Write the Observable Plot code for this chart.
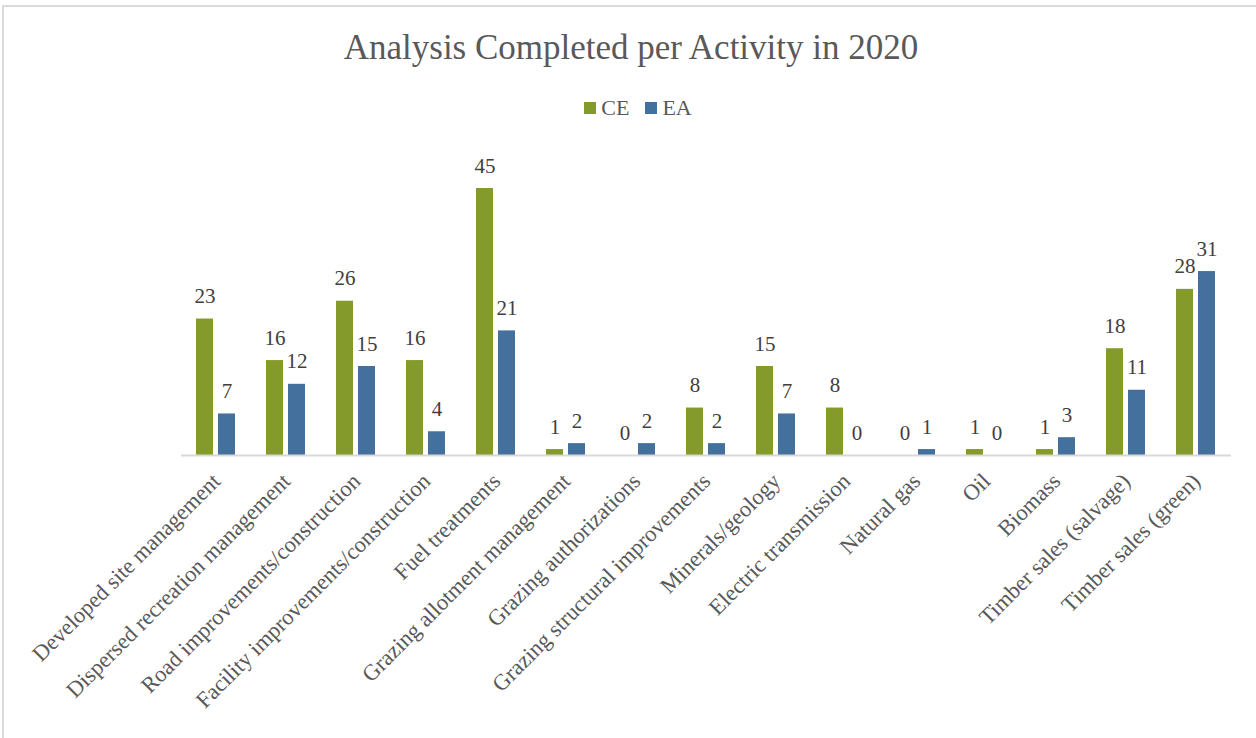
<!DOCTYPE html>
<html>
<head>
<meta charset="utf-8">
<script src="https://cdn.jsdelivr.net/npm/d3@7"></script>
<script src="https://cdn.jsdelivr.net/npm/@observablehq/plot@0.6"></script>
<style>
  html, body { margin: 0; padding: 0; background: #fff; }
  #wrap { position: relative; width: 1256px; height: 738px; overflow: hidden; font-family: "Liberation Serif", serif; }
  #border { position: absolute; left: 2px; top: 5px; width: 1300px; height: 800px; border-left: 2px solid #d9d9d9; border-top: 2px solid #d9d9d9; box-sizing: border-box; }
  #title { position: absolute; left: 0; width: 1262px; top: 26px; text-align: center; font-size: 35px; line-height: 44px; color: #595959; }
  #legend { position: absolute; left: 0; width: 1276px; top: 94px; text-align: center; font-size: 22px; line-height: 28px; color: #595959; }
  .sw { display: inline-block; width: 12px; height: 12px; margin-right: 5px; vertical-align: 1px; }
  .item { margin: 0 8px; }
  #chart { position: absolute; left: 0; top: 0; }
</style>
</head>
<body>
<div id="wrap">
  <div id="border"></div>
  <div id="chart"></div>
  <div id="title"></div>
  <div id="legend"></div>
</div>
<script>
const titleText = "Analysis Completed per Activity in 2020";
const categories = [
  "Developed site management",
  "Dispersed recreation management",
  "Road improvements/construction",
  "Facility improvements/construction",
  "Fuel treatments",
  "Grazing allotment management",
  "Grazing authorizations",
  "Grazing structural improvements",
  "Minerals/geology",
  "Electric transmission",
  "Natural gas",
  "Oil",
  "Biomass",
  "Timber sales (salvage)",
  "Timber sales (green)"
];
const series = ["CE", "EA"];
const ceValues = [23, 16, 26, 16, 45, 1, 0, 8, 15, 8, 0, 1, 1, 18, 28];
const eaValues = [7, 12, 15, 4, 21, 2, 2, 2, 7, 0, 1, 0, 3, 11, 31];
const colors = ["#849a2b", "#43709c"];

const data = categories.flatMap((c, i) => [
  {category: c, series: "CE", value: ceValues[i]},
  {category: c, series: "EA", value: eaValues[i]}
]);

document.getElementById("title").textContent = titleText;
const legend = document.getElementById("legend");
series.forEach((s, i) => {
  const span = document.createElement("span");
  span.className = "item";
  const sw = document.createElement("span");
  sw.className = "sw";
  sw.style.background = colors[i];
  span.appendChild(sw);
  span.appendChild(document.createTextNode(s));
  legend.appendChild(span);
});

const chart = Plot.plot({
  width: 1256,
  height: 738,
  marginLeft: 181,
  marginRight: 25,
  marginTop: 188,
  marginBottom: 283,
  style: {fontFamily: "Liberation Serif, serif", background: "transparent", overflow: "visible"},
  fx: {domain: categories, padding: 0, label: null, axis: null},
  x: {domain: series, paddingInner: 0.22, paddingOuter: 0.65, axis: null},
  y: {domain: [0, 45], axis: null},
  color: {domain: series, range: colors},
  marks: [
    Plot.barY(data, {fx: "category", x: "series", y: "value", fill: "series"}),
    Plot.ruleY([0], {stroke: "#d9d9d9", strokeWidth: 2}),
    Plot.text(data, {fx: "category", x: "series", y: "value", text: d => String(d.value), dy: -16, lineAnchor: "bottom", fontSize: 21, fill: "#404040"}),
    Plot.axisFx({anchor: "bottom", tickRotate: -45, tickSize: 0, tickPadding: 22, fontSize: 22.5, fill: "#595959", label: null})
  ]
});
document.getElementById("chart").appendChild(chart);
</script>
</body>
</html>
